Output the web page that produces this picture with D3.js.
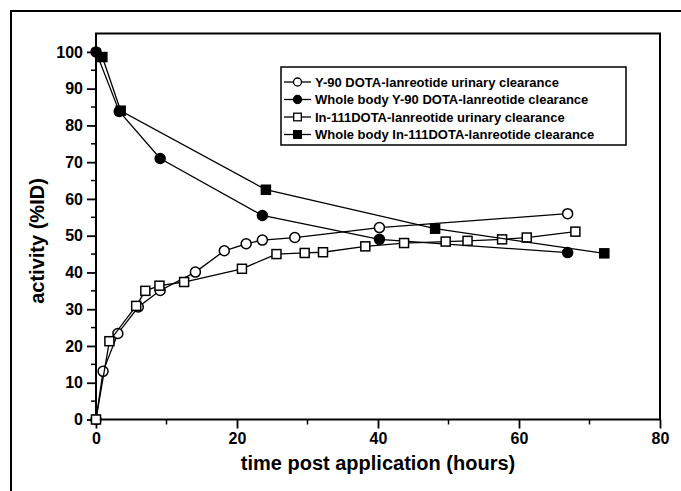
<!DOCTYPE html>
<html>
<head>
<meta charset="utf-8">
<script src="https://cdn.jsdelivr.net/npm/d3@7"></script>
<style>
  body { margin: 0; background: #fff; }
  svg { display: block; font-family: "Liberation Sans", Arial, sans-serif; }
</style>
</head>
<body>
<svg width="681" height="491"></svg>
<script>
// values (hours, %ID)
const y90UrineX = [0, 1.0, 3.1, 6.0, 9.1, 14.1, 18.2, 21.3, 23.6, 28.2, 40.2, 66.9];
const y90UrineY = [0, 13.1, 23.4, 30.6, 35.1, 40.1, 45.9, 47.8, 48.8, 49.5, 52.2, 56.0];

const y90BodyX = [0, 3.3, 9.1, 23.6, 40.2, 66.9];
const y90BodyY = [100, 83.8, 71.0, 55.5, 49.0, 45.4];

const in111UrineX = [0, 1.9, 5.7, 7.0, 9.0, 12.5, 20.7, 25.6, 29.6, 32.2, 38.2, 43.7, 49.6, 52.7, 57.6, 61.1, 68.0];
const in111UrineY = [0, 21.3, 30.9, 35.0, 36.4, 37.4, 41.0, 45.0, 45.3, 45.5, 47.1, 48.0, 48.4, 48.6, 49.0, 49.5, 51.1];

const in111BodyX = [0.9, 3.5, 24.1, 48.1, 72.1];
const in111BodyY = [98.6, 84.0, 62.5, 51.9, 45.2];

const seriesNames = [
  "Y-90 DOTA-lanreotide urinary clearance",
  "Whole body Y-90 DOTA-lanreotide clearance",
  "In-111DOTA-lanreotide urinary clearance",
  "Whole body In-111DOTA-lanreotide clearance"
];
const xTicks = [0, 20, 40, 60, 80];
const yTicks = [0, 10, 20, 30, 40, 50, 60, 70, 80, 90, 100];

const series = [
  { name: seriesNames[0], xs: y90UrineX, ys: y90UrineY, shape: "circle", fill: "#fff" },
  { name: seriesNames[1], xs: y90BodyX, ys: y90BodyY, shape: "circle", fill: "#000" },
  { name: seriesNames[2], xs: in111UrineX, ys: in111UrineY, shape: "square", fill: "#fff" },
  { name: seriesNames[3], xs: in111BodyX, ys: in111BodyY, shape: "square", fill: "#000" }
];

const svg = d3.select("svg");
const plotL = 96, plotR = 660, plotT = 33.5, plotB = 419.5;

const x = d3.scaleLinear().domain([0, 80]).range([plotL, plotR]);
const y = d3.scaleLinear().domain([0, 105]).range([plotB, plotT]);

// outer frame (only top and left edges visible)
svg.append("path")
  .attr("d", "M11,491V11H681")
  .attr("fill", "none").attr("stroke", "#000").attr("stroke-width", 2);

// plot box
svg.append("rect")
  .attr("x", plotL).attr("y", plotT)
  .attr("width", plotR - plotL).attr("height", plotB - plotT)
  .attr("fill", "none").attr("stroke", "#000").attr("stroke-width", 2);

// minor ticks
svg.append("g").selectAll("line")
  .data(d3.range(10, 80, 20))
  .join("line")
  .attr("x1", d => x(d)).attr("x2", d => x(d))
  .attr("y1", plotB).attr("y2", plotB + 5)
  .attr("stroke", "#000").attr("stroke-width", 1.5);
svg.append("g").selectAll("line")
  .data(d3.range(5, 105, 10))
  .join("line")
  .attr("x1", plotL).attr("x2", plotL - 5)
  .attr("y1", d => y(d)).attr("y2", d => y(d))
  .attr("stroke", "#000").attr("stroke-width", 1.5);

const xAxis = svg.append("g")
  .attr("transform", `translate(0,${plotB})`)
  .call(d3.axisBottom(x).tickValues(xTicks).tickSize(9).tickPadding(4).tickFormat(d3.format("d")));
const yAxis = svg.append("g")
  .attr("transform", `translate(${plotL},0)`)
  .call(d3.axisLeft(y).tickValues(yTicks).tickSize(9).tickPadding(4).tickFormat(d3.format("d")));

[xAxis, yAxis].forEach(g => {
  g.select(".domain").remove();
  g.selectAll(".tick line").attr("stroke", "#000").attr("stroke-width", 1.8);
  g.selectAll(".tick text")
    .attr("fill", "#000")
    .style("font-size", "16px")
    .style("font-weight", "bold")
    .style("font-family", "'Liberation Sans', Arial, sans-serif");
});

// axis titles
svg.append("text")
  .attr("x", (plotL + plotR) / 2).attr("y", 470)
  .attr("text-anchor", "middle")
  .style("font-size", "20px").style("font-weight", "bold")
  .text("time post application (hours)");
svg.append("text")
  .attr("transform", "translate(44,241) rotate(-90)")
  .attr("text-anchor", "middle")
  .style("font-size", "20px").style("font-weight", "bold")
  .text("activity (%ID)");

const line = d3.line().x(d => x(d[0])).y(d => y(d[1]));

function drawMarker(g, shape, fill) {
  if (shape === "circle") {
    g.append("circle").attr("r", 5)
      .attr("fill", fill).attr("stroke", "#000").attr("stroke-width", 1.5);
  } else {
    g.append("rect").attr("x", -4.5).attr("y", -4.5).attr("width", 9).attr("height", 9)
      .attr("fill", fill).attr("stroke", "#000").attr("stroke-width", 1.5);
  }
}

series.forEach(s => {
  const pts = s.xs.map((v, i) => [v, s.ys[i]]);
  svg.append("path")
    .datum(pts)
    .attr("d", line)
    .attr("fill", "none").attr("stroke", "#000").attr("stroke-width", 1.3);
  svg.append("g").selectAll("g")
    .data(pts)
    .join("g")
    .attr("transform", d => `translate(${x(d[0])},${y(d[1])})`)
    .each(function() { drawMarker(d3.select(this), s.shape, s.fill); });
});

// legend
const legend = svg.append("g").attr("transform", "translate(281,67)");
legend.append("rect")
  .attr("width", 345).attr("height", 78)
  .attr("fill", "#fff").attr("stroke", "#000").attr("stroke-width", 1.5);
series.forEach((s, i) => {
  const row = legend.append("g").attr("transform", `translate(0,${15 + i * 17.5})`);
  row.append("line").attr("x1", 3).attr("x2", 30)
    .attr("stroke", "#000").attr("stroke-width", 1.3);
  const m = row.append("g").attr("transform", "translate(16.5,0)");
  if (s.shape === "circle") {
    m.append("circle").attr("r", 4).attr("fill", s.fill).attr("stroke", "#000").attr("stroke-width", 1.3);
  } else {
    m.append("rect").attr("x", -3.8).attr("y", -3.8).attr("width", 7.6).attr("height", 7.6)
      .attr("fill", s.fill).attr("stroke", "#000").attr("stroke-width", 1.3);
  }
  row.append("text")
    .attr("x", 34).attr("y", 4.5)
    .style("font-size", "13px").style("font-weight", "bold")
    .text(s.name);
});
</script>
</body>
</html>
